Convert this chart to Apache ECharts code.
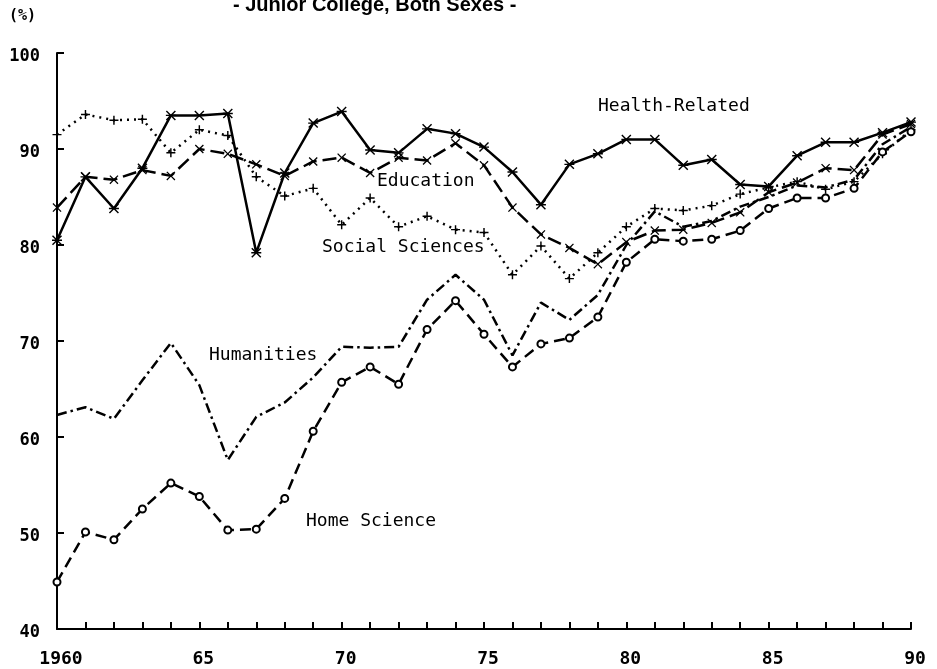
<!DOCTYPE html>
<html>
<head>
<meta charset="utf-8">
<title>Junior College, Both Sexes</title>
<script src="https://cdn.jsdelivr.net/npm/echarts@6/dist/echarts.min.js"></script>
<style>
  html, body { margin: 0; padding: 0; background: #fff; }
  #chart { width: 937px; height: 669px; }
</style>
</head>
<body>
<div id="chart"></div>
<script>
// 年份 (1960 - 1990)
const years = [
  1960, 1961, 1962, 1963, 1964, 1965, 1966, 1967, 1968, 1969,
  1970, 1971, 1972, 1973, 1974, 1975, 1976, 1977, 1978, 1979,
  1980, 1981, 1982, 1983, 1984, 1985, 1986, 1987, 1988, 1989, 1990
];

// values (%)
const healthRelated = [
  80.5, 87.1, 83.8, 88.0, 93.5, 93.5, 93.7, 79.2, 87.5, 92.7,
  93.9, 89.9, 89.6, 92.1, 91.6, 90.2, 87.6, 84.2, 88.4, 89.5,
  91.0, 91.0, 88.3, 88.9, 86.3, 86.1, 89.3, 90.7, 90.7, 91.7, 92.8
];
const education = [
  83.9, 87.1, 86.8, 87.8, 87.2, 90.0, 89.5, 88.4, 87.2, 88.7,
  89.1, 87.5, 89.1, 88.8, 90.6, 88.3, 83.9, 81.1, 79.7, 78.0,
  80.3, 81.5, 81.6, 82.3, 83.4, 85.5, 86.5, 88.0, 87.8, 91.5, 92.6
];
const socialSciences = [
  91.5, 93.6, 93.0, 93.1, 89.6, 92.0, 91.4, 87.1, 85.1, 85.9,
  82.1, 84.9, 81.9, 83.0, 81.6, 81.3, 76.9, 79.9, 76.5, 79.2,
  81.9, 83.8, 83.6, 84.1, 85.3, 86.0, 86.6, 85.8, 86.6, 89.5, 92.0
];
const humanities = [
  62.3, 63.1, 61.9, 65.9, 69.8, 65.4, 57.6, 62.1, 63.6, 66.2,
  69.4, 69.3, 69.4, 74.3, 76.9, 74.3, 68.5, 74.0, 72.2, 74.8,
  80.0, 83.5, 81.9, 82.5, 84.0, 85.0, 86.2, 86.0, 86.8, 90.5, 92.3
];
const homeScience = [
  44.9, 50.1, 49.3, 52.5, 55.2, 53.8, 50.3, 50.4, 53.6, 60.6,
  65.7, 67.3, 65.5, 71.2, 74.2, 70.7, 67.3, 69.7, 70.3, 72.5,
  78.2, 80.6, 80.4, 80.6, 81.5, 83.8, 84.9, 84.9, 85.9, 89.7, 91.8
];

const seriesNames = ['Health-Related', 'Education', 'Social Sciences', 'Humanities', 'Home Science'];

// marker shapes
const STAR = 'path://M0,1L1,0L5,4L9,0L10,1L6,5L10,9L9,10L5,6L1,10L0,9L4,5ZM0,4.3H10V5.7H0Z';
const CROSS = 'path://M0,1L1,0L5,4L9,0L10,1L6,5L10,9L9,10L5,6L1,10L0,9L4,5Z';
const PLUS = 'path://M4.2,0H5.8V4.2H10V5.8H5.8V10H4.2V5.8H0V4.2H4.2Z';

const MONO = '"DejaVu Sans Mono", "Liberation Mono", monospace';

function pairs(vals) {
  return years.map((y, i) => [y, vals[i]]);
}

const chart = echarts.init(document.getElementById('chart'));

const labelText = (text, left, top) => ({
  type: 'text',
  left: left,
  top: top,
  style: {text: text, font: '18px ' + MONO, fill: '#000'}
});

const option = {
  backgroundColor: '#fff',
  animation: false,
  grid: {left: 57, right: 26, top: 53, bottom: 40},
  xAxis: {
    type: 'value',
    min: 1960,
    max: 1990,
    interval: 1,
    axisLine: {lineStyle: {color: '#000', width: 2}},
    axisTick: {inside: true, length: 7, lineStyle: {color: '#000', width: 2}},
    splitLine: {show: false},
    axisLabel: {
      color: '#000',
      fontFamily: MONO,
      fontSize: 18,
      fontWeight: 'bold',
      margin: 21,
      padding: [0, 0, 0, 8],
      showMinLabel: true,
      showMaxLabel: true,
      formatter: (v) => {
        if (v % 5 !== 0) return '';
        return v === 1960 ? '1960' : String(v).slice(2);
      }
    }
  },
  yAxis: {
    type: 'value',
    min: 40,
    max: 100,
    interval: 10,
    axisLine: {show: true, lineStyle: {color: '#000', width: 2}},
    axisTick: {show: true, inside: true, length: 7, lineStyle: {color: '#000', width: 2}},
    splitLine: {show: false},
    axisLabel: {
      color: '#000', fontFamily: MONO, fontSize: 17, fontWeight: 'bold',
      margin: 17, verticalAlign: 'top', padding: [-5, 0, 0, 0]
    }
  },
  graphic: [
    {
      type: 'text',
      left: 233,
      top: -5,
      style: {text: '- Junior College, Both Sexes -', font: 'bold 20px "Liberation Sans", Arial, sans-serif', fill: '#000'}
    },
    {
      type: 'text',
      left: 9,
      top: 9,
      style: {text: '(%)', font: 'bold 15px ' + MONO, fill: '#000'}
    },
    labelText('Health-Related', 598, 97),
    labelText('Education', 377, 172),
    labelText('Social Sciences', 322, 238),
    labelText('Humanities', 209, 346),
    labelText('Home Science', 306, 512)
  ],
  series: [
    {
      name: seriesNames[0],
      type: 'line',
      data: pairs(healthRelated),
      symbol: STAR,
      symbolSize: 10,
      itemStyle: {color: '#000'},
      lineStyle: {color: '#000', width: 2.5, type: 'solid'}
    },
    {
      name: seriesNames[1],
      type: 'line',
      data: pairs(education),
      symbol: CROSS,
      symbolSize: 9,
      itemStyle: {color: '#000'},
      lineStyle: {color: '#000', width: 2.5, type: [14, 6]}
    },
    {
      name: seriesNames[2],
      type: 'line',
      data: pairs(socialSciences),
      symbol: PLUS,
      symbolSize: 9,
      itemStyle: {color: '#000'},
      lineStyle: {color: '#000', width: 2.5, type: [2, 5]}
    },
    {
      name: seriesNames[3],
      type: 'line',
      data: pairs(humanities),
      symbol: 'none',
      lineStyle: {color: '#000', width: 2.5, type: [10, 4, 2.5, 4]}
    },
    {
      name: seriesNames[4],
      type: 'line',
      data: pairs(homeScience),
      symbol: 'emptyCircle',
      symbolSize: 7,
      itemStyle: {color: '#000', borderWidth: 2},
      lineStyle: {color: '#000', width: 2.5, type: [11, 6]}
    }
  ]
};

chart.setOption(option);
</script>
</body>
</html>
